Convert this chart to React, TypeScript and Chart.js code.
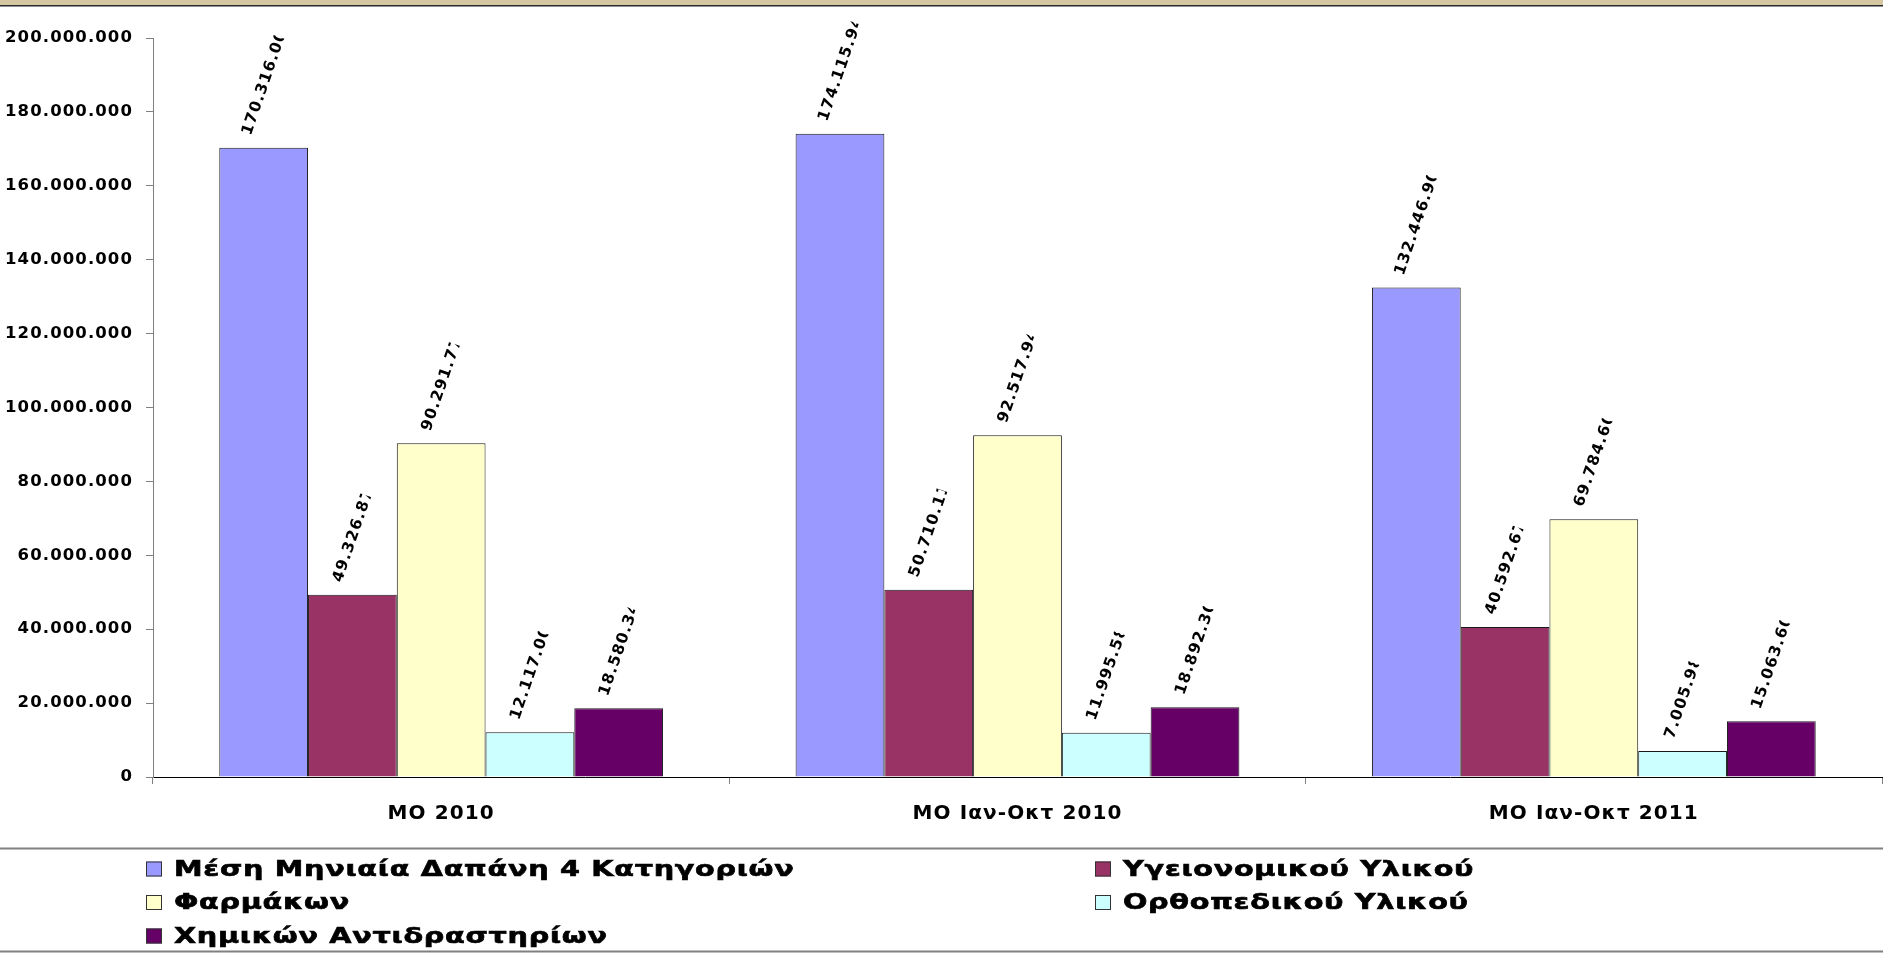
import React, { useEffect, useRef } from 'react';
import { Chart, registerables } from 'chart.js';

Chart.register(...registerables);

// ---------- data ----------
const categories = ['ΜΟ 2010', 'ΜΟ Ιαν-Οκτ 2010', 'ΜΟ Ιαν-Οκτ 2011'];
const seriesNames = [
  'Μέση Μηνιαία Δαπάνη 4 Κατηγοριών',
  'Υγειονομικού Υλικού',
  'Φαρμάκων',
  'Ορθοπεδικού Υλικού',
  'Χημικών Αντιδραστηρίων',
];
const totalMonthly = [170316000, 174115940, 132446900];
const sanitaryMaterial = [49326870, 50710110, 40592670];
const pharmaceuticals = [90291770, 92517940, 69784600];
const orthopedicMaterial = [12117000, 11995580, 7005980];
const chemicalReagents = [18580340, 18892300, 15063600];
const seriesValues = [totalMonthly, sanitaryMaterial, pharmaceuticals, orthopedicMaterial, chemicalReagents];
const seriesColors = ['#9999FF', '#993366', '#FFFFCC', '#CCFFFF', '#660066'];
const yMin = 0;
const yMax = 200000000;
const yStep = 20000000;

const FONT = '"DejaVu Sans", "Liberation Sans", Arial, sans-serif';

const fmt = (v: number) => String(Math.round(v)).replace(/\B(?=(\d{3})+(?!\d))/g, '.');

// ---------- plugins ----------
const framePlugin = {
  id: 'frame',
  beforeDraw(chart: any) {
    const ctx = chart.ctx;
    const w = chart.width;
    ctx.save();
    ctx.fillStyle = '#d5c7a2';
    ctx.fillRect(0, 0, w, 5);
    ctx.fillStyle = '#2a2a2a';
    ctx.fillRect(0, 5, w, 1.5);
    ctx.fillStyle = '#808080';
    ctx.fillRect(0, 847.5, w, 2);
    ctx.fillRect(0, 950.5, w, 2);
    ctx.restore();
    // spacing for axis labels
    ctx.letterSpacing = '1.1px';
  },
  beforeDatasetsDraw(chart: any) {
    chart.ctx.letterSpacing = '0px';
  },
};

const valueLabelPlugin = {
  id: 'valueLabels',
  afterDatasetsDraw(chart: any) {
    const ctx = chart.ctx;
    const theta = (71 * Math.PI) / 180;
    ctx.save();
    ctx.font = `bold 15.5px ${FONT}`;
    ctx.letterSpacing = '1.2px';
    ctx.fillStyle = '#000';
    ctx.textAlign = 'left';
    ctx.textBaseline = 'middle';
    const digitW = ctx.measureText('0').width;
    chart.data.datasets.forEach((ds: any, di: number) => {
      const meta = chart.getDatasetMeta(di);
      meta.data.forEach((bar: any, i: number) => {
        const txt = fmt(ds.data[i]);
        const full = ctx.measureText(txt).width;
        const visible = full - 1.6 * digitW;
        const sx = bar.x - (visible / 2) * Math.cos(theta);
        const sy = bar.y - 13;
        ctx.save();
        ctx.translate(sx, sy);
        ctx.rotate(-theta);
        ctx.beginPath();
        ctx.rect(-3, -14, visible + 3, 28);
        ctx.clip();
        ctx.fillText(txt, 0, 0);
        ctx.restore();
      });
    });
    ctx.restore();
  },
};

const gridLegendPlugin = {
  id: 'gridLegend',
  afterDraw(chart: any) {
    const ctx = chart.ctx;
    ctx.save();
    ctx.font = `bold 20.5px ${FONT}`;
    ctx.letterSpacing = '0.5px';
    ctx.textAlign = 'left';
    ctx.textBaseline = 'middle';
    const colX = [146, 1095];
    chart.data.datasets.forEach((ds: any, i: number) => {
      const col = i % 2;
      const row = Math.floor(i / 2);
      const mx = colX[col];
      const cy = 869 + row * 33.5;
      ctx.fillStyle = ds.backgroundColor;
      ctx.fillRect(mx, cy - 7.5, 16, 15);
      ctx.strokeStyle = '#333';
      ctx.lineWidth = 1;
      ctx.strokeRect(mx + 0.5, cy - 7, 15, 14);
      ctx.fillStyle = '#000';
      ctx.strokeStyle = '#000';
      ctx.lineWidth = 0.6;
      ctx.save();
      ctx.translate(mx + 28, cy + 1.5);
      ctx.scale(1.4, 1);
      ctx.fillText(ds.label, 0, 0);
      ctx.strokeText(ds.label, 0, 0);
      ctx.restore();
    });
    ctx.restore();
  },
};

export default function App() {
  const canvasRef = useRef<HTMLCanvasElement | null>(null);

  useEffect(() => {
    if (!canvasRef.current) return;
    const chart = new Chart(canvasRef.current, {
      type: 'bar',
      data: {
        labels: categories,
        datasets: seriesNames.map((name, i) => ({
          label: name,
          data: seriesValues[i],
          backgroundColor: seriesColors[i],
          borderColor: '#1a1a1a',
          borderWidth: 1,
          categoryPercentage: 0.77,
          barPercentage: 1,
        })),
      },
      options: {
        animation: false,
        responsive: true,
        maintainAspectRatio: false,
        layout: { padding: { top: 38, bottom: 105, left: 0, right: 1 } },
        plugins: {
          legend: { display: false },
          tooltip: { enabled: false },
          title: { display: false },
        },
        scales: {
          x: {
            grid: { display: true, drawOnChartArea: false, tickLength: 7, color: '#808080', offset: true },
            border: { display: true, color: '#000', width: 1 },
            ticks: {
              color: '#000',
              font: { family: FONT, size: 20, weight: 'bold' },
              padding: 18,
              autoSkip: false,
              maxRotation: 0,
            },
            afterFit: (s: any) => {
              s.height = 71;
            },
          },
          y: {
            min: yMin,
            max: yMax,
            grid: { display: true, drawOnChartArea: false, tickLength: 7, color: '#808080' },
            border: { display: true, color: '#808080', width: 1 },
            ticks: {
              stepSize: yStep,
              color: '#000',
              font: { family: FONT, size: 16.5, weight: 'bold' },
              padding: 13,
              callback: (v: any) => fmt(Number(v)),
            },
            afterFit: (s: any) => {
              s.width = 153;
            },
          },
        },
      },
      plugins: [framePlugin, valueLabelPlugin, gridLegendPlugin],
    } as any);
    return () => chart.destroy();
  }, []);

  return (
    <div style={{ position: 'fixed', left: 0, top: 0, width: 1883, height: 953, background: '#fff' }}>
      <canvas ref={canvasRef} />
    </div>
  );
}
